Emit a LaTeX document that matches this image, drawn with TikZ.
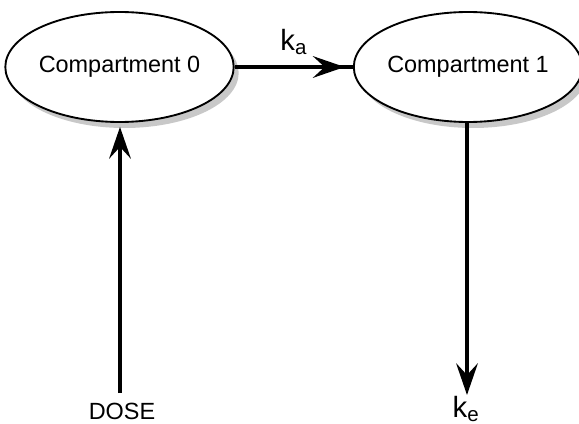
\documentclass[tikz,border=0pt]{standalone}
\usepackage{fontspec}
\setmainfont{Liberation Sans}
\usepackage{xcolor}
\definecolor{shadowgray}{RGB}{200,200,200}
\usetikzlibrary{shapes.geometric}
\usetikzlibrary{shadows}
\usetikzlibrary{arrows.meta}
\usetikzlibrary{decorations.markings}
\usetikzlibrary{positioning}

\begin{document}
\begin{tikzpicture}[x=0.03cm, y=-0.03cm,
	compartment/.style={ellipse, draw=black, line width=1.6pt, fill=white, minimum width=6.69cm, minimum height=3.3cm, inner sep=0pt, font=\fontsize{20}{24}\selectfont, drop shadow={shadow xshift=0.15cm, shadow yshift=-0.18cm, fill=shadowgray, opacity=1}},
	flow/.style={line width=3.2pt, -{Stealth[length=0.95cm, width=0.65cm, inset=0.35cm]}},
	rate/.style={font=\fontsize{25}{30}\selectfont, inner sep=0pt}]
	\useasboundingbox (0,0) rectangle (579,424);
				% compartments
	\node[compartment] (comp0) at (119.5,67) {Compartment 0};
	\node[compartment] (comp1) at (468,67) {Compartment 1};
				% dose and elimination ends
	\coordinate (dosein) at (120,393);
	\coordinate (elimout) at (467,395);
	\node[rate, anchor=base] (dose) at (122,419) {\fontsize{20}{24}\selectfont DOSE};
	\node[rate, anchor=base] (elim) at (466,417) {k\textsubscript{e}};
				% flows
	\draw[line width=3.2pt, postaction={decorate}, decoration={markings, mark=at position 0.93 with {\arrow{Stealth[length=0.95cm, width=0.65cm, inset=0.35cm]}}}] (comp0.east) -- (comp1.west) node[rate, midway, above=0.3cm] (absorb) {k\textsubscript{a}};
	\draw[flow, shorten >=0.12cm] (dosein) -- (dosein |- comp0.south);
	\draw[flow] (comp1.south -| elimout) -- (elimout);
\end{tikzpicture}
\end{document}
